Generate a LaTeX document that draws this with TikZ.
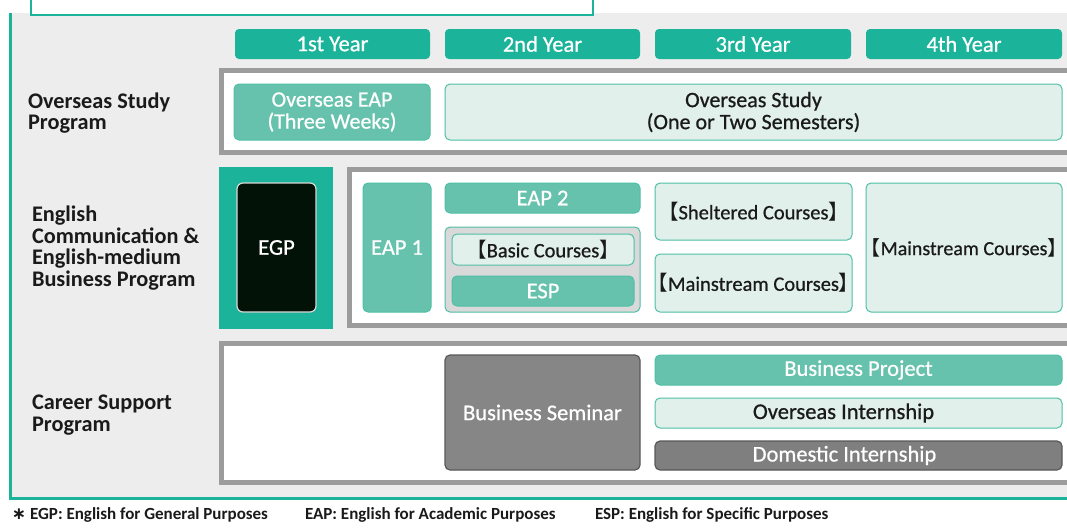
\documentclass[tikz,border=0pt]{standalone}
\usepackage{fontspec}
\setmainfont{Carlito}
\newfontfamily\medf{Carlito}[RawFeature={embolden=0.7}]
\newfontfamily\cjkf{Noto Sans CJK JP}
\newfontfamily\dejavuf{DejaVu Sans}
\definecolor{tealA}{HTML}{1BB39A}
\definecolor{tealB}{HTML}{67C2AD}
\definecolor{tealLine}{HTML}{4FBFA6}
\definecolor{lightT}{HTML}{E1F0EB}
\definecolor{panel}{HTML}{EDEDED}
\definecolor{frameG}{HTML}{9C9C9C}
\definecolor{groupG}{HTML}{D9D9D9}
\definecolor{semG}{HTML}{868686}
\definecolor{domG}{HTML}{7F7F7F}
\definecolor{semLine}{HTML}{585858}
\definecolor{egpB}{HTML}{031206}
\definecolor{egpLine}{HTML}{D8D8D8}
\definecolor{txt}{HTML}{1A1A1A}
\newcommand{\LBk}{{\cjkf\hspace{-0.42em}【}}
\newcommand{\RBk}{{\cjkf】\hspace{-0.42em}}}
\begin{document}
\begin{tikzpicture}[x=1pt,y=-1pt,
 every node/.style={inner sep=0pt, outer sep=0pt},
 wh/.style 2 args={minimum width=#1pt, minimum height=#2pt},
 cell/.style={anchor=north west, rounded corners=5pt, font=\fontsize{22.5}{23}\medf, align=center},
 brk/.style={font=\fontsize{20.5}{22}\medf},
 yearbox/.style={cell, fill=tealA, text=white, rounded corners=4pt},
 midbox/.style={cell, fill=tealB, draw=tealLine, line width=1pt, text=white},
 lightbox/.style={cell, fill=lightT, draw=tealLine, line width=1pt, text=txt},
 greybox/.style={cell, fill=semG, draw=semLine, line width=1.2pt, text=white},
 framebox/.style={anchor=north west, draw=frameG, line width=5pt, fill=white},
 rowlabel/.style={anchor=west, align=left, font=\fontsize{22.3}{21.8}\selectfont\bfseries, text=txt},
 note/.style={anchor=base west, font=\fontsize{17}{18}\selectfont\bfseries, text=txt}
]
\useasboundingbox (0,0) rectangle (1067,531);
\fill[white] (0,0) rectangle (1067,531);
% background panel
\fill[panel] (10,13) rectangle (1067,498);
\draw[tealA, line width=3pt] (10,13) -- (10,498) -- (1067,498);
\draw[tealA, line width=2pt, fill=white] (31,-5) rectangle (593,15);

% year headers
\node[yearbox, wh={195}{30}] (y1) at (235,29) {1st Year};
\node[yearbox, wh={195}{30}] (y2) at (445,29) {2nd Year};
\node[yearbox, wh={196}{30}] (y3) at (655,29) {3rd Year};
\node[yearbox, wh={196}{30}] (y4) at (866,29) {4th Year};

% row 1
\node[framebox, wh={853.5}{82}] (f1) at (221.5,70.5) {};
\node[midbox, font=\fontsize{22}{22}\medf, wh={196}{56}] (oeap) at (234,84) {Overseas EAP\\(Three Weeks)};
\node[lightbox, font=\fontsize{22}{22}\medf, wh={617}{56}] (ostudy) at (445,84) {Overseas Study\\(One or Two Semesters)};

% row 2
\node[anchor=north west, fill=tealA, wh={114}{162}] (egpback) at (219,167) {};
\node[cell, fill=egpB, draw=egpLine, line width=1.2pt, rounded corners=6pt, text=white, wh={79}{129}] (egp) at (237,183) {EGP};
\node[framebox, wh={725.5}{156}] (f2) at (349.5,169.5) {};
\node[midbox, wh={68}{129}] (eap1) at (363,183) {EAP 1};
\node[midbox, wh={195}{30}] (eap2) at (445,183) {EAP 2};
\node[cell, fill=groupG, draw=tealLine, line width=1pt, wh={195}{85}] (grp) at (445,227) {};
\node[lightbox, brk, wh={182}{31}] (basic) at (452,234) {\LBk Basic Courses\RBk};
\node[midbox, wh={182}{30}] (esp) at (452,276) {ESP};
\node[lightbox, brk, wh={197}{57}] (shelt) at (655,183) {\LBk Sheltered Courses\RBk};
\node[lightbox, brk, wh={197}{58}] (mainA) at (655,254) {\LBk Mainstream Courses\RBk};
\node[lightbox, font=\fontsize{20}{22}\medf, wh={196}{129}] (mainB) at (866,183) {\LBk Mainstream Courses\RBk};

% row 3
\node[framebox, wh={853.5}{139}] (f3) at (221.5,343.5) {};
\node[greybox, wh={195}{115}] (bsem) at (445,355) {Business Seminar};
\node[midbox, wh={407}{30}] (bproj) at (655,355) {Business Project};
\node[lightbox, wh={407}{30}] (ointern) at (655,398) {\hspace{-30pt}Overseas Internship};
\node[greybox, fill=domG, wh={407}{29}] (dintern) at (655,441) {\hspace{-28pt}Domestic Internship};

% row labels
\node[rowlabel] (l1) at (28,113) {Overseas Study\\Program};
\node[rowlabel] (l2) at (32,248) {English\\Communication \&\\English-medium\\Business Program};
\node[rowlabel] (l3) at (32,415) {Career Support\\Program};

% footnotes
\node[note] (n1) at (12,519) {{\dejavuf ∗} EGP: English for General Purposes};
\node[note] (n2) at (305,519) {EAP: English for Academic Purposes};
\node[note] (n3) at (595,519) {ESP: English for Specific Purposes};
\end{tikzpicture}
\end{document}
